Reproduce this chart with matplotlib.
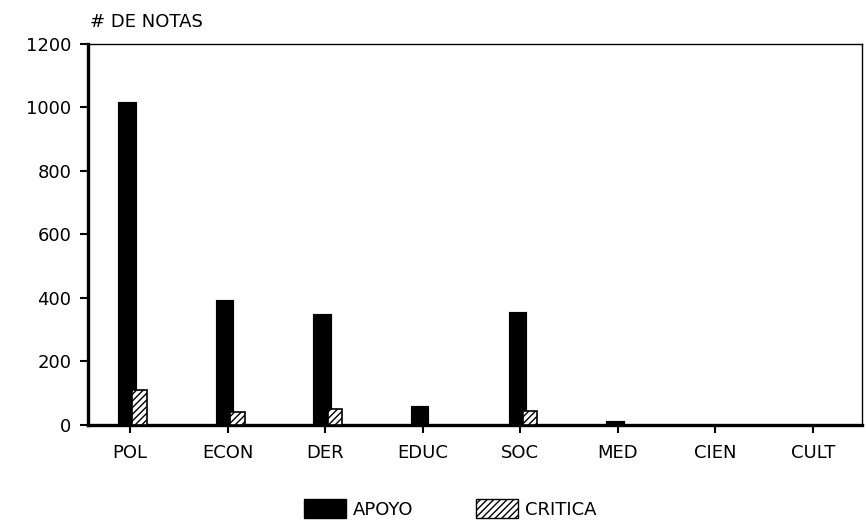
import numpy as np
import matplotlib.pyplot as plt
from matplotlib.patches import Patch

categorias = ['POL', 'ECON', 'DER', 'EDUC', 'SOC', 'MED', 'CIEN', 'CULT']
apoyo = [1020, 395, 352, 62, 358, 15, 0, 0]
critica = [110, 40, 50, 0, 45, 0, 0, 0]
y_ticks = [0, 200, 400, 600, 800, 1000, 1200]

plt.rcParams['font.family'] = ['DejaVu Sans']

fig = plt.figure(figsize=(8.66, 5.22), dpi=100)
ax = fig.add_axes([0.1016, 0.186, 0.8934, 0.730])

x = np.arange(len(categorias))
ax.bar(x - 0.03, apoyo, width=0.2, color='#000000', edgecolor='#ffffff',
       linewidth=0.6, zorder=2)
ax.bar(x + 0.1, critica, width=0.15, color='#ffffff', edgecolor='#000000',
       hatch='/////', linewidth=1.2, zorder=3)

ax.set_xlim(-0.43, 7.5)
ax.set_ylim(0, 1200)
ax.set_yticks(y_ticks)
ax.set_xticks(x)
ax.set_xticklabels(categorias)
ax.tick_params(axis='both', labelsize=13, length=6, width=1.5, direction='out')
ax.tick_params(axis='x', pad=8)
ax.tick_params(axis='y', pad=6)

for side in ['left', 'bottom']:
    ax.spines[side].set_linewidth(2.4)
for side in ['top', 'right']:
    ax.spines[side].set_linewidth(1.0)

fig.text(0.104, 0.94, '# DE NOTAS', fontsize=13, ha='left', va='bottom')

handles = [Patch(facecolor='#000000', edgecolor='#000000', label='APOYO'),
           Patch(facecolor='#ffffff', edgecolor='#000000', hatch='/////',
                 label='CRITICA')]
fig.legend(handles=handles, loc='lower center', ncol=2, frameon=False,
           fontsize=13, bbox_to_anchor=(0.52, -0.025), handlelength=2.3,
           handleheight=1.2, handletextpad=0.4, columnspacing=3.5)

fig.savefig('out.png', dpi=100, facecolor='white')
